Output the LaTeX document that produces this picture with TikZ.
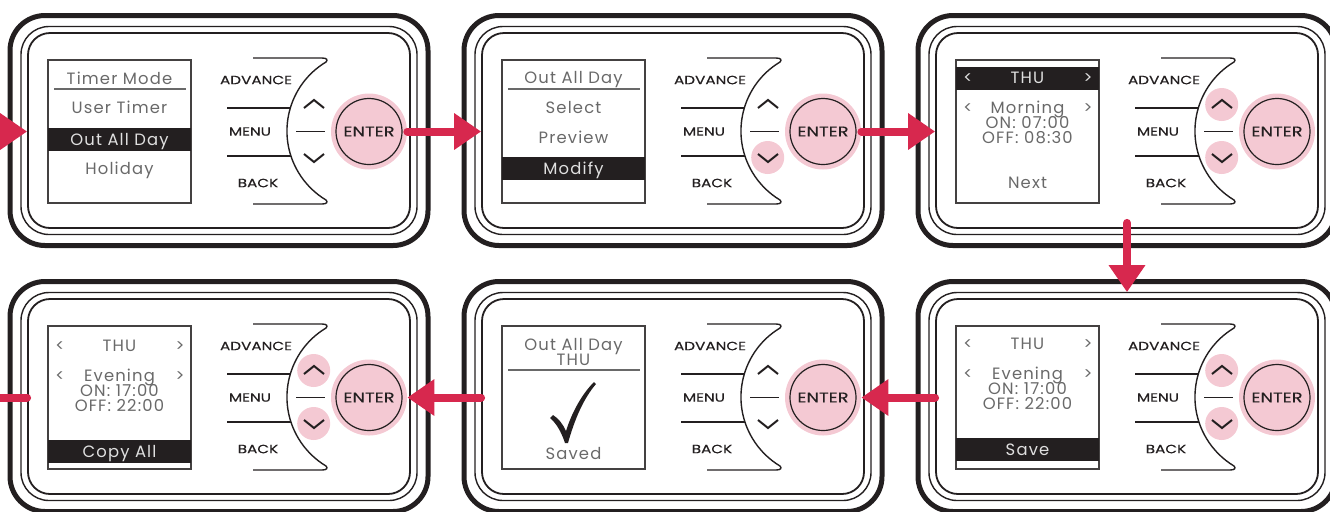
\documentclass[tikz,border=0pt]{standalone}
\usepackage{fontspec}
\usetikzlibrary{arrows.meta}
\newfontfamily\scrfont[LetterSpace=7]{Poppins}
\newfontfamily\keyfont[FakeStretch=1.27,FakeBold=0.4]{Poppins}

\definecolor{flowred}{RGB}{215,40,78}
\definecolor{keypink}{RGB}{244,201,211}
\definecolor{scrgray}{RGB}{105,105,105}
\definecolor{barblack}{RGB}{35,31,32}

\tikzset{
  outerframe/.style={draw=barblack,line width=2.5pt,rounded corners=17.5pt,
    minimum width=209pt,minimum height=115pt,inner sep=0pt},
  midframe/.style={draw=barblack,line width=0.7pt,rounded corners=14pt,
    minimum width=198pt,minimum height=104pt,inner sep=0pt},
  innerframe/.style={draw=barblack,line width=0.9pt,rounded corners=11pt,
    minimum width=191pt,minimum height=97.5pt,inner sep=0pt},
  screen/.style={draw=barblack!85,line width=0.8pt,minimum size=71.5pt,inner sep=0pt},
  enterdisc/.style={circle,fill=keypink,minimum size=38pt,inner sep=0pt},
  enterring/.style={circle,draw=barblack,line width=0.6pt,minimum size=33pt,inner sep=0pt,
    text=barblack,font=\keyfont\fontsize{7}{8}\selectfont},
  keyglow/.style={circle,fill=keypink,minimum size=16.5pt,inner sep=0pt},
  keyline/.style={draw=barblack,line width=0.7pt},
  chevron/.style={draw=barblack,line width=1pt},
  keylabel/.style={inner sep=0pt,text=barblack,font=\keyfont\fontsize{6}{7}\selectfont},
  scrtext/.style={inner sep=0pt,text=scrgray,text height=5.75pt,text depth=0pt,
    font=\scrfont\fontsize{8.2}{9}\selectfont},
  selbar/.style={scrtext,fill=barblack,text=white!88!black,minimum width=71.5pt,minimum height=11.5pt},
  scrrule/.style={draw=scrgray,line width=0.6pt},
  flow/.style={draw=flowred,line width=4pt,line cap=round,-{Triangle[width=17.5pt,length=13.5pt]}},
  flowline/.style={draw=flowred,line width=4pt,line cap=round},
  thermostat/.pic={
    \node[outerframe] (-frame) at (219,130.5) {};
    \node[midframe] (-mid) at (219,130.5) {};
    \node[innerframe] (-in) at (219,130.5) {};
    \node[screen] (-screen) at (119.5,131.5) {};
    \node[enterdisc] (-enter) at (369,131.5) {};
    \node[enterring] (-ring) at (369,131.5) {ENTER};
    \draw[keyline] (253,58) -- (322,58) .. controls (327,58) and (328,60) .. (326,62)
      arc[start angle=121,end angle=239,radius=40.25pt]
      .. controls (328,202) and (327,204) .. (322,204) -- (253,204);
    \draw[keyline] (227,108) -- (290.5,108) (227,156) -- (291,156) (296,131.5) -- (325,131.5);
    \draw[chevron] (304,108) -- (314,100) -- (324,108);
    \draw[chevron] (304,154) -- (314,162) -- (324,154);
    \node[keylabel] (-adv) at (256,80) {ADVANCE};
    \node[keylabel] (-menu) at (250,131.5) {MENU};
    \node[keylabel] (-back) at (258,183) {BACK};
  }
}

\begin{document}
\begin{tikzpicture}[x=0.5pt,y=-0.5pt]
  \useasboundingbox (0,0) rectangle (1330,511);

  % pressed keys
  \node[keyglow] (p2-down) at (767.7,157.5) {};
  \node[keyglow] (p3-up) at (1221.7,104.5) {};
  \node[keyglow] (p3-down) at (1221.7,157.5) {};
  \node[keyglow] (p6-up) at (1221.7,370.5) {};
  \node[keyglow] (p6-down) at (1221.7,423.5) {};
  \node[keyglow] (p4-up) at (313.7,370.5) {};
  \node[keyglow] (p4-down) at (313.7,423.5) {};

  % the six thermostats
  \pic (p1) at (0,0) {thermostat};
  \pic (p2) at (454,0) {thermostat};
  \pic (p3) at (908,0) {thermostat};
  \pic (p4) at (0,266) {thermostat};
  \pic (p5) at (454,266) {thermostat};
  \pic (p6) at (908,266) {thermostat};

  % screens
  \begin{scope}
    \node[scrtext] (p1-head) at (119.5,79) {Timer Mode};
    \draw[scrrule] (54,89) -- (186,89);
    \node[scrtext] (p1-user) at (119.5,108) {User Timer};
    \node[selbar] (p1-out) at (119.5,139.5) {Out All Day};
    \node[scrtext] (p1-hol) at (119.5,169) {Holiday};
  \end{scope}
  \begin{scope}[shift={(454,0)}]
    \node[scrtext] (p2-head) at (119.5,78) {Out All Day};
    \draw[scrrule] (54,89) -- (186,89);
    \node[scrtext] (p2-sel) at (119.5,108) {Select};
    \node[scrtext] (p2-pre) at (119.5,138) {Preview};
    \node[selbar] (p2-mod) at (119.5,168.5) {Modify};
  \end{scope}
  \begin{scope}[shift={(908,0)}]
    \node[selbar] (p3-day) at (119.5,78) {THU};
    \node[scrtext,text=white!88!black] (p3-dl) at (60,78) {<};
    \node[scrtext,text=white!88!black] (p3-dr) at (180,78) {>};
    \node[scrtext] (p3-per) at (119.5,108) {Morning};
    \node[scrtext] (p3-pl) at (60,108) {<};
    \node[scrtext] (p3-pr) at (180,108) {>};
    \node[scrtext] (p3-on) at (119.5,123) {ON: 07:00};
    \node[scrtext] (p3-off) at (119.5,138) {OFF: 08:30};
    \node[scrtext] (p3-next) at (119.5,183) {Next};
  \end{scope}
  \begin{scope}[shift={(908,266)}]
    \node[scrtext] (p6-day) at (119.5,78) {THU};
    \node[scrtext] (p6-dl) at (60,78) {<};
    \node[scrtext] (p6-dr) at (180,78) {>};
    \node[scrtext] (p6-per) at (119.5,108) {Evening};
    \node[scrtext] (p6-pl) at (60,108) {<};
    \node[scrtext] (p6-pr) at (180,108) {>};
    \node[scrtext] (p6-on) at (119.5,122.5) {ON: 17:00};
    \node[scrtext] (p6-off) at (119.5,137.5) {OFF: 22:00};
    \node[selbar] (p6-save) at (119.5,183.5) {Save};
  \end{scope}
  \begin{scope}[shift={(454,266)}]
    \node[scrtext] (p5-head) at (119.5,79) {Out All Day};
    \node[scrtext] (p5-day) at (119.5,94) {THU};
    \draw[scrrule] (54,104) -- (186,104);
    \fill[barblack] (96,152) .. controls (102,157) and (107,165) .. (111,177) -- (114,177)
      .. controls (121,152) and (130,132) .. (142,118) -- (140,116)
      .. controls (128,128) and (118,146) .. (112,165)
      .. controls (109,158) and (104,152) .. (99,149) -- cycle;
    \node[scrtext] (p5-saved) at (119.5,188) {Saved};
  \end{scope}
  \begin{scope}[shift={(0,266)}]
    \node[scrtext] (p4-day) at (119.5,80) {THU};
    \node[scrtext] (p4-dl) at (60,80) {<};
    \node[scrtext] (p4-dr) at (180,80) {>};
    \node[scrtext] (p4-per) at (119.5,110) {Evening};
    \node[scrtext] (p4-pl) at (60,110) {<};
    \node[scrtext] (p4-pr) at (180,110) {>};
    \node[scrtext] (p4-on) at (119.5,125) {ON: 17:00};
    \node[scrtext] (p4-off) at (119.5,140) {OFF: 22:00};
    \node[selbar] (p4-copy) at (119.5,185.5) {Copy All};
  \end{scope}

  % flow between the steps
  \coordinate (entry) at (-12,131.5);
  \coordinate (exit) at (-12,397.5);
  \draw[flow] (entry) -- (p1-in.west |- entry);
  \draw[flow] (p1-enter.east) -- (p2-in.west |- p1-enter);
  \draw[flow] (p2-enter.east) -- (p3-in.west |- p2-enter);
  \draw[flow] ([yshift=3pt]p3-in.south) -- ([yshift=3pt]p6-in.north);
  \draw[flow] (p6-in.west |- p6-enter) -- (p5-enter.east);
  \draw[flow] (p5-in.west |- p5-enter) -- (p4-enter.east);
  \draw[flowline] (p4-in.west |- p4-enter) -- (exit);
\end{tikzpicture}
\end{document}
